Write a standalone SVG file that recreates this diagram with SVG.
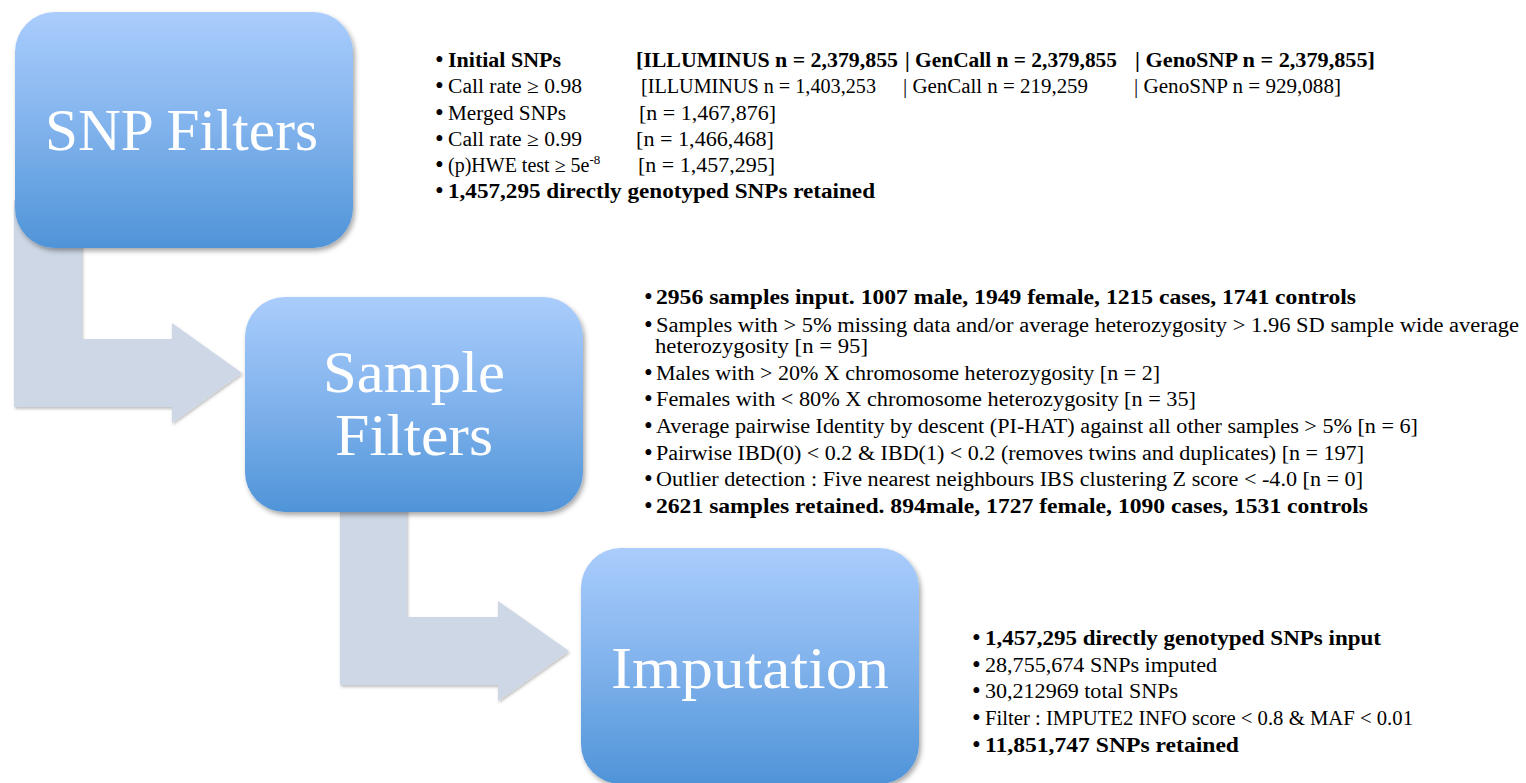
<svg xmlns="http://www.w3.org/2000/svg" width="1526" height="783" viewBox="0 0 1526 783">
<style>
  .box { fill: url(#boxGrad); filter: url(#boxShadow); }
  .conn { fill: #CDD7E5; filter: url(#connShadow); }
  .big { font-family: "Liberation Serif", "Times New Roman", serif; font-size: 60px; fill: #FFFFFF; }
  .t { font-family: "Liberation Serif", "Times New Roman", serif; font-size: 20px; fill: #000000; }
  .b { font-weight: bold; }
  .bul { font-family: "Liberation Serif", "Times New Roman", serif; font-size: 25px; fill: #000000; }
  .sup { font-size: 13px; }
</style>
<defs>
  <linearGradient id="boxGrad" x1="0" y1="0" x2="0" y2="1">
    <stop offset="0" stop-color="#AACDFC"/>
    <stop offset="0.5" stop-color="#80B2EC"/>
    <stop offset="1" stop-color="#4F94D8"/>
  </linearGradient>
  <filter id="boxShadow" x="-10%" y="-10%" width="125%" height="125%">
    <feDropShadow dx="2" dy="3" stdDeviation="2.5" flood-color="#000000" flood-opacity="0.35"/>
  </filter>
  <filter id="connShadow" x="-10%" y="-10%" width="125%" height="125%">
    <feDropShadow dx="1" dy="2" stdDeviation="1.5" flood-color="#000000" flood-opacity="0.25"/>
  </filter>
</defs>
<rect x="0" y="0" width="1526" height="783" fill="#FFFFFF"/>

<g id="connectors">
  <polygon class="conn" points="14,200 82,200 82,339 172,339 172,323 242,373 172,423 172,407 14,407"/>
  <polygon class="conn" points="340,480 407,480 407,617 498,617 498,601 569,651 498,701 498,685 340,685"/>
</g>

<g id="node-snp-filters">
  <rect class="box" x="15" y="12" width="338" height="236" rx="40" ry="40"/>
  <text class="big" x="45" y="150" textLength="273" lengthAdjust="spacingAndGlyphs">SNP Filters</text>
</g>

<g id="node-sample-filters">
  <rect class="box" x="245" y="297" width="338" height="215" rx="40" ry="40"/>
  <text class="big" x="323" y="392" textLength="182" lengthAdjust="spacingAndGlyphs">Sample</text>
  <text class="big" x="335" y="455" textLength="158" lengthAdjust="spacingAndGlyphs">Filters</text>
</g>

<g id="node-imputation">
  <rect class="box" x="581" y="548" width="338" height="236" rx="40" ry="40"/>
  <text class="big" x="611" y="688" textLength="278" lengthAdjust="spacingAndGlyphs">Imputation</text>
</g>

<g id="snp-filter-notes" xml:space="preserve">
  <text class="bul" x="435" y="68">•</text>
  <text class="t b" x="448" y="67" textLength="113" lengthAdjust="spacingAndGlyphs">Initial SNPs</text>
  <text class="t b" x="636" y="67" textLength="262" lengthAdjust="spacingAndGlyphs">[ILLUMINUS n = 2,379,855</text>
  <text class="t b" x="905" y="67" textLength="212" lengthAdjust="spacingAndGlyphs">| GenCall n = 2,379,855</text>
  <text class="t b" x="1135" y="67" textLength="240" lengthAdjust="spacingAndGlyphs">| GenoSNP n = 2,379,855]</text>

  <text class="bul" x="435" y="94">•</text>
  <text class="t" x="448" y="93" textLength="134" lengthAdjust="spacingAndGlyphs">Call rate ≥ 0.98</text>
  <text class="t" x="641" y="93" textLength="235" lengthAdjust="spacingAndGlyphs">[ILLUMINUS n = 1,403,253</text>
  <text class="t" x="903" y="93" textLength="185" lengthAdjust="spacingAndGlyphs">| GenCall n = 219,259</text>
  <text class="t" x="1134" y="93" textLength="207" lengthAdjust="spacingAndGlyphs">| GenoSNP n = 929,088]</text>

  <text class="bul" x="435" y="120.5">•</text>
  <text class="t" x="448" y="119.5" textLength="118" lengthAdjust="spacingAndGlyphs">Merged SNPs</text>
  <text class="t" x="639" y="119.5" textLength="137" lengthAdjust="spacingAndGlyphs">[n = 1,467,876]</text>

  <text class="bul" x="435" y="146.5">•</text>
  <text class="t" x="448" y="145.5" textLength="134" lengthAdjust="spacingAndGlyphs">Call rate ≥ 0.99</text>
  <text class="t" x="636" y="145.5" textLength="138" lengthAdjust="spacingAndGlyphs">[n = 1,466,468]</text>

  <text class="bul" x="435" y="172.5">•</text>
  <text class="t" x="448" y="171.5">(p)HWE test ≥ 5e<tspan class="sup" dy="-8">-8</tspan></text>
  <text class="t" x="638" y="171.5" textLength="137" lengthAdjust="spacingAndGlyphs">[n = 1,457,295]</text>

  <text class="bul" x="435" y="198.5">•</text>
  <text class="t b" x="448" y="197.5" textLength="427" lengthAdjust="spacingAndGlyphs">1,457,295 directly genotyped SNPs retained</text>
</g>

<g id="sample-filter-notes" xml:space="preserve">
  <text class="bul" x="644" y="305">•</text>
  <text class="t b" x="656" y="304" textLength="700" lengthAdjust="spacingAndGlyphs">2956 samples input. 1007 male, 1949 female, 1215 cases, 1741 controls</text>
  <text class="bul" x="644" y="333">•</text>
  <text class="t" x="656" y="332" textLength="863" lengthAdjust="spacingAndGlyphs">Samples with &gt; 5% missing data and/or average heterozygosity &gt; 1.96 SD sample wide average</text>
  <text class="t" x="655" y="353" textLength="213" lengthAdjust="spacingAndGlyphs">heterozygosity  [n = 95]</text>
  <text class="bul" x="644" y="381">•</text>
  <text class="t" x="656" y="380" textLength="504" lengthAdjust="spacingAndGlyphs">Males with &gt; 20% X chromosome heterozygosity [n = 2]</text>
  <text class="bul" x="644" y="407">•</text>
  <text class="t" x="656" y="406" textLength="540" lengthAdjust="spacingAndGlyphs">Females with &lt; 80% X chromosome heterozygosity [n = 35]</text>
  <text class="bul" x="644" y="434">•</text>
  <text class="t" x="656" y="433" textLength="762" lengthAdjust="spacingAndGlyphs">Average pairwise Identity by descent (PI-HAT) against all other samples &gt; 5% [n = 6]</text>
  <text class="bul" x="644" y="461">•</text>
  <text class="t" x="656" y="460" textLength="708" lengthAdjust="spacingAndGlyphs">Pairwise IBD(0) &lt; 0.2 &amp; IBD(1) &lt; 0.2 (removes twins and duplicates) [n = 197]</text>
  <text class="bul" x="644" y="487">•</text>
  <text class="t" x="656" y="486" textLength="707" lengthAdjust="spacingAndGlyphs">Outlier detection : Five nearest neighbours IBS clustering Z score &lt; -4.0 [n = 0]</text>
  <text class="bul" x="644" y="514">•</text>
  <text class="t b" x="656" y="513" textLength="712" lengthAdjust="spacingAndGlyphs">2621 samples retained. 894male, 1727 female, 1090 cases, 1531 controls</text>
</g>

<g id="imputation-notes" xml:space="preserve">
  <text class="bul" x="972" y="646">•</text>
  <text class="t b" x="985" y="645" textLength="396" lengthAdjust="spacingAndGlyphs">1,457,295 directly genotyped SNPs input</text>
  <text class="bul" x="972" y="673">•</text>
  <text class="t" x="985" y="672" textLength="232" lengthAdjust="spacingAndGlyphs">28,755,674 SNPs imputed</text>
  <text class="bul" x="972" y="699">•</text>
  <text class="t" x="985" y="698" textLength="193" lengthAdjust="spacingAndGlyphs">30,212969 total SNPs</text>
  <text class="bul" x="972" y="726">•</text>
  <text class="t" x="985" y="725" textLength="428" lengthAdjust="spacingAndGlyphs">Filter : IMPUTE2 INFO score &lt; 0.8 &amp; MAF &lt; 0.01</text>
  <text class="bul" x="972" y="753">•</text>
  <text class="t b" x="985" y="752" textLength="254" lengthAdjust="spacingAndGlyphs">11,851,747 SNPs  retained</text>
</g>
</svg>
